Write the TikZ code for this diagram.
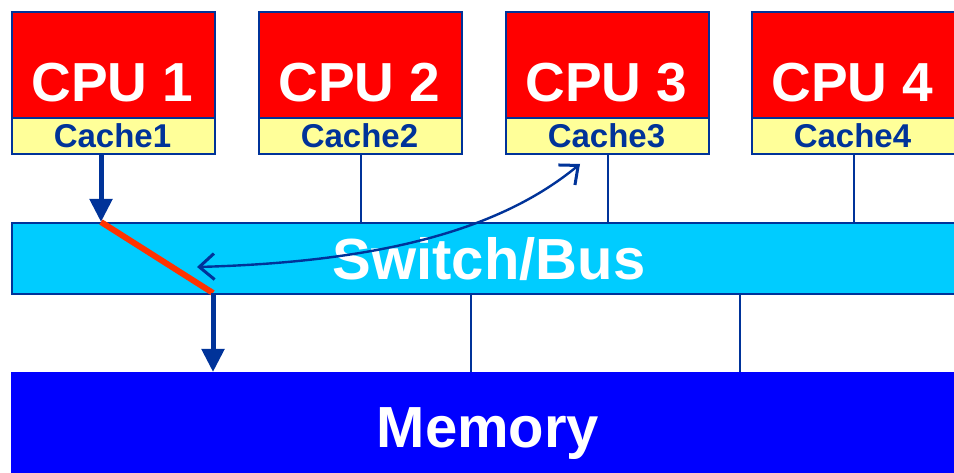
\documentclass[tikz,border=0pt]{standalone}
\usepackage{fontspec}
\setmainfont{Liberation Sans}
\usetikzlibrary{arrows.meta,calc}
\definecolor{edge}{RGB}{0,51,153}
\definecolor{cpured}{RGB}{255,0,0}
\definecolor{cacheyel}{RGB}{255,255,153}
\definecolor{buscyan}{RGB}{0,204,255}
\definecolor{memblue}{RGB}{0,0,255}
\definecolor{pathred}{RGB}{255,51,0}
\tikzset{
  cpubox/.style={draw=edge, line width=2pt, fill=cpured, anchor=north west,
    minimum width=203pt, minimum height=106pt, inner sep=0pt},
  cachebox/.style={draw=edge, line width=2pt, fill=cacheyel, anchor=north west,
    minimum width=203pt, minimum height=36pt, inner sep=0pt},
  cpulabel/.style={anchor=base, text=white, font=\bfseries\fontsize{55}{55}\selectfont, inner sep=0pt},
  cachelabel/.style={anchor=base, text=edge, font=\bfseries\fontsize{33}{33}\selectfont, inner sep=0pt},
  biglabel/.style={anchor=base, text=white, font=\bfseries\fontsize{58}{58}\selectfont, inner sep=0pt},
  wire/.style={draw=edge, line width=2pt},
  fatarrow/.style={draw=edge, line width=5pt, -{Triangle[length=23pt,width=22pt]}},
  barb/.tip={Straight Barb[length=15pt,width=26pt,line width=3pt]},
  transfer/.style={draw=edge, line width=2.4pt, barb-barb},
}
\begin{document}
\begin{tikzpicture}[x=1pt, y=-1pt]
\clip (0,0) rectangle (954,473);
\fill[white] (0,0) rectangle (954,473);

% interconnect and memory
\node[draw=edge, line width=2pt, fill=buscyan, anchor=north west,
  minimum width=1000pt, minimum height=71pt, inner sep=0pt] (bus) at (11,222) {};
\node[draw=memblue, line width=1pt, fill=memblue, anchor=north west,
  minimum width=1000pt, minimum height=130pt, inner sep=0pt] (mem) at (11,372) {};
\node[biglabel] (buslabel) at (489,280) {Switch/Bus};
\node[biglabel] (memlabel) at (488,447) {Memory};

% processors with their caches
\foreach \i/\x in {1/11, 2/258, 3/505, 4/751}{
  \node[cpubox] (cpu\i) at (\x,11) {};
  \node[cachebox] (cache\i) at (\x,117) {};
  \node[cpulabel] (cpulabel\i) at ($(\x,0)+(101.5,102)$) {CPU \i};
  \node[cachelabel] (cachelabel\i) at ($(\x,0)+(101.5,148)$) {Cache\i};
}

% cache to bus taps
\foreach \i in {2,3,4}{
  \draw[wire] (cache\i.south) -- (cache\i.south |- bus.north);
}
% bus to memory taps
\draw[wire] (471,0 |- bus.south) -- (471,0 |- mem.north);
\draw[wire] (740,0 |- bus.south) -- (740,0 |- mem.north);

% path of a write from CPU 1 through the switch to memory
\coordinate (busin) at (101,222);
\coordinate (busout) at (213,293);
\draw[fatarrow] (101,0 |- cache1.south) -- (busin);
\draw[pathred, line width=6pt] (busin) -- (busout);
\draw[fatarrow] (busout) -- (213,0 |- mem.north);

% coherence traffic between the bus and Cache3
\coordinate (snoopbus) at (197,267);
\coordinate (snoopcache) at (580,164);
\draw[transfer] (snoopbus) .. controls (380,262) and (500,230) .. (snoopcache);
\end{tikzpicture}
\end{document}
